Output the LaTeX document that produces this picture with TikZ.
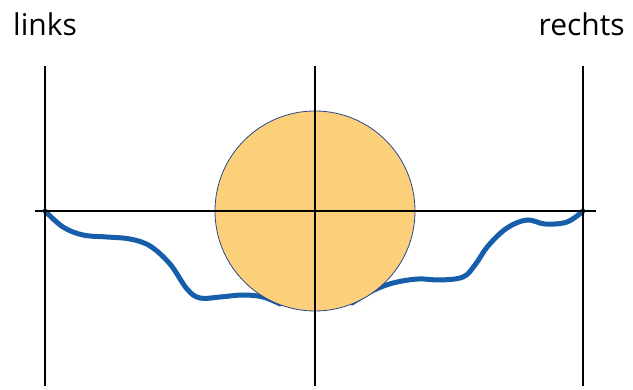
\documentclass[tikz,border=0pt]{standalone}
\usepackage{fontspec}
\setmainfont{Open Sans}
\usepackage{xcolor}
\definecolor{sunfill}{RGB}{252,208,122}
\definecolor{wave}{RGB}{22,94,170}
\definecolor{rim}{RGB}{40,70,140}

\begin{document}
\begin{tikzpicture}[x=1pt, y=-1pt]
    \useasboundingbox (0,0) rectangle (633,390);
    \tikzset{axis/.style={line width=2.3pt, black},
             label/.style={font=\fontsize{30}{32}\selectfont, inner sep=0pt, anchor=base}}

    % Axis end points
    \coordinate (LT) at (45,66);   \coordinate (LB) at (45,386);
    \coordinate (MT) at (315,66);  \coordinate (MB) at (315,386);
    \coordinate (RT) at (583,66);  \coordinate (RB) at (583,386);
    \coordinate (HL) at (35,211);  \coordinate (HR) at (596,211);
    \coordinate (O) at (315,211);

    % Wavy line (behind the disc)
    \draw[wave, line width=5pt, line cap=round] plot[smooth, tension=0.6] coordinates {
        (45,211) (63,227) (83,235) (107,237) (130,239) (150,246) (170,264)
        (187,289) (200,298) (220,297) (243,295) (263,297) (280,304)};
    \draw[wave, line width=5pt, line cap=round] plot[smooth, tension=0.6] coordinates {
        (352,303) (372,291) (393,283) (418,279) (440,280) (463,277) (475,265)
        (488,246) (507,228) (527,220) (545,224) (567,222) (583,211)};

    % Disc
    \node[circle, draw=rim, line width=0.8pt, fill=sunfill, minimum size=200pt, inner sep=0pt] (disc) at (O) {};

    % Axes
    \draw[axis] (LT) -- (LB);
    \draw[axis] (MT) -- (MB);
    \draw[axis] (RT) -- (RB);
    \draw[axis] (HL) -- (HR);

    % Labels
    \node[label] (links) at (45,36) {links};
    \node[label, anchor=base east] (rechts) at (625,36) {rechts};
\end{tikzpicture}
\end{document}
